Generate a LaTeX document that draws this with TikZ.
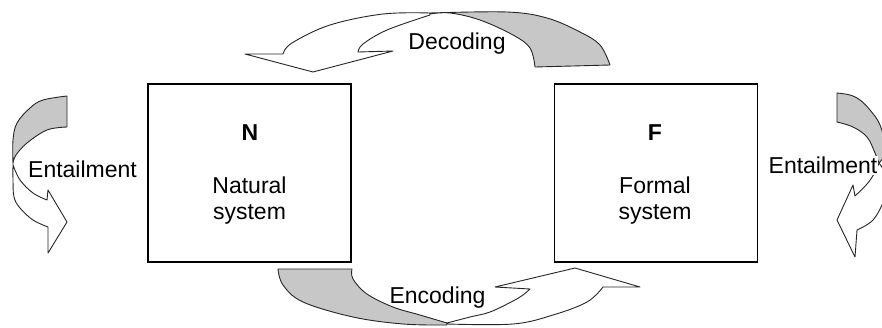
\documentclass[tikz,border=0pt]{standalone}
\usepackage{fontspec}
\setmainfont{Liberation Sans}
\usetikzlibrary{positioning}

\begin{document}
\begin{tikzpicture}[
  x=1pt, y=-1pt,
  font=\fontsize{23}{26}\selectfont,
  every node/.style={align=center},
  sysbox/.style={rectangle, draw=black, line width=1.1pt,
    minimum width=203pt, minimum height=178pt, inner sep=0pt},
  lbl/.style={inner sep=0pt},
  backface/.style={draw=black!85, fill=black!22, line width=0.9pt, line join=round},
  frontface/.style={draw=black!85, fill=white, line width=0.9pt, line join=round},
  curve/.style={smooth, tension=0.6}
]
\useasboundingbox (0,0) rectangle (882,327);
\clip (0,0) rectangle (882,327);

\node[sysbox] (nat) at (249.5,173) {};
\node[sysbox, right=202pt of nat] (form) {};

\node[lbl, font=\fontsize{23}{26}\selectfont\bfseries] (natN) at (250,133) {N};
\node[lbl] (natT) at (249.5,201) {Natural\\system};
\node[lbl, font=\fontsize{23}{26}\selectfont\bfseries] (formF) at (655,133) {F};
\node[lbl] (formT) at (655,201) {Formal\\system};

% decoding ribbon
\filldraw[frontface] plot[curve] coordinates {(430,13) (383,14) (330,25) (292,43) (283,54)}
  -- (245,54) -- (313,72) -- (393,51) -- (358,52)
  -- plot[curve] coordinates {(358,52) (363,44) (387,30) (430,15)} -- cycle;
\filldraw[backface] plot[curve] coordinates {(430,13) (507,12) (547,18) (580,32) (600,45) (610,65)}
  -- (535,67)
  -- plot[curve] coordinates {(535,67) (530,48) (513,35) (480,20) (450,13) (430,14)} -- cycle;
\node[lbl] (dec) at (457,44) {Decoding};

% encoding ribbon
\filldraw[backface] (278,269) -- (352,269)
  -- plot[curve] coordinates {(352,269) (353,279) (367,294) (393,307) (420,315) (447,323)}
  -- plot[curve] coordinates {(447,325) (403,324) (353,317) (303,302) (283,285) (278,269)} -- cycle;
\filldraw[frontface] plot[curve] coordinates {(447,324) (513,324) (553,315) (587,302) (603,287)}
  -- (640,287) -- (575,268) -- (495,287) -- (530,289)
  -- plot[curve] coordinates {(530,289) (523,295) (513,301) (490,312) (470,317) (447,323)} -- cycle;
\node[lbl] (enc) at (437.5,297.5) {Encoding};

% entailment ribbon, natural side
\filldraw[backface] (67,96) -- (67,127)
  -- plot[curve] coordinates {(67,127) (47,130) (27,143) (16,155) (13,163)}
  -- plot[curve] coordinates {(13,163) (13,140) (17,123) (30,108) (43,100) (67,96)} -- cycle;
\filldraw[frontface] plot[curve] coordinates {(13,163) (13,180) (14,197) (20,208) (33,220) (48,227)}
  -- (48,253) -- (67,222) -- (48,190) -- (47,200)
  -- plot[curve] coordinates {(47,200) (33,193) (20,180) (13,165)} -- cycle;
\node[lbl] (entN) at (82.5,169) {Entailment};

% entailment ribbon, formal side
\filldraw[backface] (837,93) -- (837,122)
  -- plot[curve] coordinates {(837,122) (853,127) (867,137) (875,153) (879,163)}
  -- plot[curve] coordinates {(879,163) (886,150) (880,125) (870,110) (860,100) (850,95) (837,93)} -- cycle;
\filldraw[frontface] plot[curve] coordinates {(879,163) (888,180) (884,200) (873,220) (857,230)}
  -- (855,257) -- (837,220) -- (853,185) -- (855,196)
  -- plot[curve] coordinates {(855,196) (867,184) (874,174) (879,163)} -- cycle;
\node[lbl, fill=white, inner ysep=1pt, inner xsep=1pt] (entF) at (823,165.5) {Entailment};
\end{tikzpicture}
\end{document}
